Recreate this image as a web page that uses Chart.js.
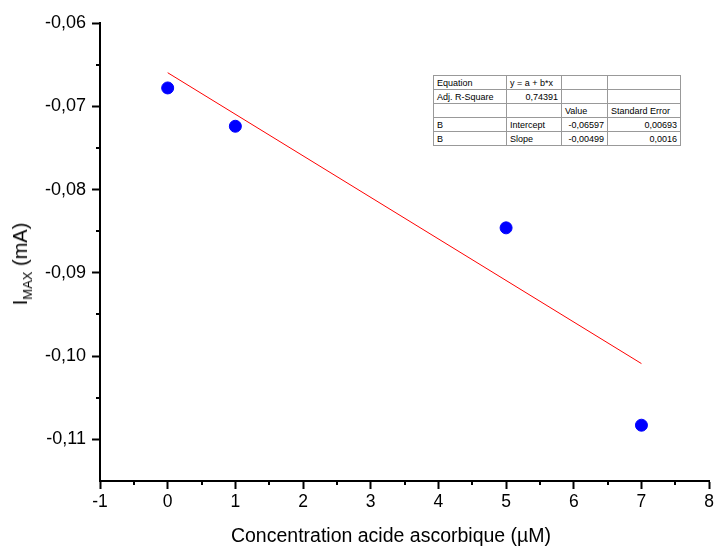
<!DOCTYPE html>
<html lang="fr">
<head>
<meta charset="UTF-8" />
<title>Imax vs concentration</title>
<script src="https://cdn.jsdelivr.net/npm/chart.js"></script>
<style>
  body { margin: 0; background: #fff; font-family: "Liberation Sans", Arial, sans-serif; }
  .wrap { position: relative; width: 717px; height: 548px; }
  .ytitle { position: absolute; left: 22px; top: 264px; transform: translate(-50%, -50%) rotate(-90deg);
            font-size: 20px; white-space: nowrap; color: #000; }
  .ytitle sub { font-size: 13px; vertical-align: -5px; }
  .xtitle { position: absolute; left: 391px; top: 535px; transform: translate(-50%, -50%);
            font-size: 19.5px; white-space: nowrap; color: #000; }
  table.fit { position: absolute; left: 433px; top: 75px; border-collapse: collapse;
              border: 1px solid #000; font-size: 9px; background: #fff; table-layout: fixed; }
  table.fit td { border: 1px solid #999; height: 13px; padding: 0 3px; line-height: 12px; overflow: hidden; white-space: nowrap; }
  table.fit td.r { text-align: right; }
</style>
</head>
<body>
<div class="wrap">
  <canvas id="graphe"></canvas>
  <div class="ytitle">I<sub>MAX</sub> (mA)</div>
  <div class="xtitle">Concentration acide ascorbique (µM)</div>
  <table class="fit">
    <tr><td style="width:66px">Equation</td><td style="width:48px">y = a + b*x</td><td style="width:39px"></td><td style="width:66px"></td></tr>
    <tr><td>Adj. R-Square</td><td class="r">0,74391</td><td></td><td></td></tr>
    <tr><td></td><td></td><td>Value</td><td>Standard Error</td></tr>
    <tr><td>B</td><td>Intercept</td><td class="r">-0,06597</td><td class="r">0,00693</td></tr>
    <tr><td>B</td><td>Slope</td><td class="r">-0,00499</td><td class="r">0,0016</td></tr>
  </table>
</div>

<script>
// donnees mesurees
const concentrations = [0, 1, 5, 7];
const imax = [-0.0678, -0.0724, -0.0846, -0.1083];

// droite de regression (extremites)
const fitX = [0, 7];
const fitY = [-0.06597, -0.10090];

// graduations
const xTicks = [-1, 0, 1, 2, 3, 4, 5, 6, 7, 8];
const yTicks = [-0.11, -0.10, -0.09, -0.08, -0.07, -0.06];

const virgule = v => v.toFixed(2).replace('.', ',');

// petites graduations (mineures) entre les majeures
const minorTicks = {
  id: 'minorTicks',
  afterDraw(chart) {
    const c = chart.ctx;
    const xs = chart.scales.x, ys = chart.scales.y;
    c.save();
    c.strokeStyle = '#000';
    c.lineWidth = 2;
    c.beginPath();
    for (let i = 0; i < xTicks.length - 1; i++) {
      const px = Math.round(xs.getPixelForValue((xTicks[i] + xTicks[i + 1]) / 2));
      c.moveTo(px, ys.bottom);
      c.lineTo(px, ys.bottom + 4);
    }
    for (let i = 0; i < yTicks.length - 1; i++) {
      const py = Math.round(ys.getPixelForValue((yTicks[i] + yTicks[i + 1]) / 2));
      c.moveTo(xs.left, py);
      c.lineTo(xs.left - 4, py);
    }
    c.stroke();
    c.restore();
  }
};

new Chart(document.getElementById('graphe'), {
  type: 'scatter',
  data: {
    datasets: [
      {
        label: 'Imax',
        data: concentrations.map((x, i) => ({ x: x, y: imax[i] })),
        backgroundColor: '#0000ff',
        borderColor: '#0000ff',
        pointRadius: 6,
        pointHoverRadius: 6
      },
      {
        type: 'line',
        label: 'Fit',
        data: fitX.map((x, i) => ({ x: x, y: fitY[i] })),
        borderColor: '#ff0000',
        borderWidth: 1,
        pointRadius: 0,
        fill: false
      }
    ]
  },
  options: {
    responsive: true,
    maintainAspectRatio: false,
    animation: false,
    layout: { padding: { top: 23, right: -4, left: 0, bottom: 0 } },
    plugins: { legend: { display: false }, tooltip: { enabled: false } },
    scales: {
      x: {
        type: 'linear',
        min: -1,
        max: 8,
        afterBuildTicks: s => { s.ticks = xTicks.map(v => ({ value: v })); },
        afterFit: s => { s.height = 67; },
        ticks: { color: '#000', font: { family: 'Liberation Sans', size: 17.5 }, padding: 3, maxRotation: 0 },
        grid: { drawOnChartArea: false, color: '#000', tickLength: 8, tickWidth: 2 },
        border: { color: '#000', width: 2 }
      },
      y: {
        type: 'linear',
        min: -0.115,
        max: -0.06,
        afterBuildTicks: s => { s.ticks = yTicks.map(v => ({ value: v })); },
        afterFit: s => { s.width = 100; },
        ticks: { color: '#000', font: { family: 'Liberation Sans', size: 18 }, padding: 6, callback: v => virgule(v) },
        grid: { drawOnChartArea: false, color: '#000', tickLength: 8, tickWidth: 2 },
        border: { color: '#000', width: 2 }
      }
    }
  },
  plugins: [minorTicks]
});
</script>
</body>
</html>
